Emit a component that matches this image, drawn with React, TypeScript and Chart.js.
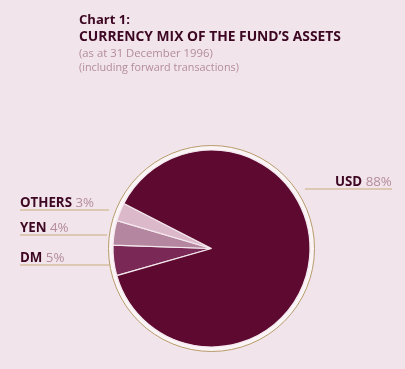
import React, { useEffect, useRef } from "react";
import { Chart, registerables } from "chart.js";

Chart.register(...registerables);

const categories = ["DM", "YEN", "OTHERS", "USD"];
const values = [5, 4, 3, 88];
const sliceColors = ["#7a2856", "#b5869f", "#dcb9ca", "#5e0a30"];
const titleLines = ["Chart 1:", "CURRENCY MIX OF THE FUND\u2019S ASSETS"];
const subtitleLines = ["(as at 31 December 1996)", "(including forward transactions)"];

const BG = "#f1e4ea";
const DARK = "#3d0622";
const MUTED = "#b48c9c";
const RULE = "#c9ae7c";
const FONT = "'Open Sans', 'Noto Sans', sans-serif";

function fitFont(ctx: CanvasRenderingContext2D, text: string, weight: string, base: number, target: number) {
  ctx.font = `${weight} ${base}px ${FONT}`;
  const w = ctx.measureText(text).width;
  return (base * target) / w;
}

const decorPlugin = {
  id: "decor",
  beforeDraw(chart: any) {
    const ctx = chart.ctx as CanvasRenderingContext2D;
    ctx.save();
    ctx.fillStyle = BG;
    ctx.fillRect(0, 0, chart.width, chart.height);
    ctx.restore();
  },
  beforeDatasetsDraw(chart: any) {
    const ctx = chart.ctx as CanvasRenderingContext2D;
    const arc = chart.getDatasetMeta(0).data[0];
    if (!arc) return;
    const { x, y, outerRadius } = arc.getProps(["x", "y", "outerRadius"], true);
    ctx.save();
    ctx.beginPath();
    ctx.arc(x, y, outerRadius + 4.5, 0, Math.PI * 2);
    ctx.fillStyle = "#fbf4f7";
    ctx.fill();
    ctx.lineWidth = 1;
    ctx.strokeStyle = "#b89c6c";
    ctx.stroke();
    ctx.restore();
  },
  afterDraw(chart: any) {
    const ctx = chart.ctx as CanvasRenderingContext2D;
    ctx.save();
    ctx.textBaseline = "alphabetic";
    ctx.textAlign = "left";
    // Title
    ctx.fillStyle = DARK;
    let fs = fitFont(ctx, titleLines[0], "bold", 12, 51);
    ctx.font = `bold ${fs}px ${FONT}`;
    ctx.fillText(titleLines[0], 79, 23.5);
    fs = fitFont(ctx, titleLines[1], "bold", 12, 262);
    ctx.font = `bold ${fs}px ${FONT}`;
    ctx.fillText(titleLines[1], 79, 41);
    ctx.fillStyle = MUTED;
    fs = fitFont(ctx, subtitleLines[0], "normal", 11, 134);
    ctx.font = `normal ${fs}px ${FONT}`;
    ctx.fillText(subtitleLines[0], 79, 56.5);
    fs = fitFont(ctx, subtitleLines[1], "normal", 11, 160);
    ctx.font = `normal ${fs}px ${FONT}`;
    ctx.fillText(subtitleLines[1], 79, 70.5);

    // Labels
    const labelPos: Record<string, { x: number; y: number; x0: number; x1: number }> = {
      USD: { x: 335, y: 185.5, x0: 305, x1: 392 },
      OTHERS: { x: 20, y: 206.5, x0: 20, x1: 109 },
      YEN: { x: 20, y: 231.5, x0: 20, x1: 107 },
      DM: { x: 20, y: 261.5, x0: 20, x1: 110 },
    };
    const boldSize = fitFont(ctx, "OTHERS", "bold", 12, 52);
    const regSize = boldSize;
    categories.forEach((cat, i) => {
      const p = labelPos[cat];
      ctx.font = `bold ${boldSize}px ${FONT}`;
      ctx.fillStyle = DARK;
      ctx.fillText(cat, p.x, p.y);
      const w = ctx.measureText(cat + " ").width;
      ctx.font = `normal ${regSize}px ${FONT}`;
      ctx.fillStyle = MUTED;
      ctx.fillText(`${values[i]}%`, p.x + w, p.y);
      ctx.beginPath();
      ctx.moveTo(p.x0, p.y + 3.5);
      ctx.lineTo(p.x1, p.y + 3.5);
      ctx.lineWidth = 1;
      ctx.strokeStyle = RULE;
      ctx.stroke();
    });
    ctx.restore();
  },
};

export default function App() {
  const ref = useRef<HTMLCanvasElement>(null);
  useEffect(() => {
    if (!ref.current) return;
    const chart = new Chart(ref.current, {
      type: "pie",
      data: {
        labels: categories,
        datasets: [
          {
            data: values,
            backgroundColor: sliceColors,
            borderColor: "#f4e8ee",
            borderWidth: 1.2,
          },
        ],
      },
      options: {
        animation: false,
        responsive: false,
        events: [],
        rotation: 254,
        radius: 98.5,
        layout: { padding: { left: 113, right: 95, top: 150, bottom: 22 } },
        plugins: { legend: { display: false }, tooltip: { enabled: false }, title: { display: false } },
      },
      plugins: [decorPlugin],
    });
    return () => chart.destroy();
  }, []);
  return (
    <div style={{ position: "absolute", left: 0, top: 0, width: 405, height: 369 }}>
      <canvas ref={ref} width={405} height={369} style={{ width: 405, height: 369, display: "block" }} />
    </div>
  );
}
